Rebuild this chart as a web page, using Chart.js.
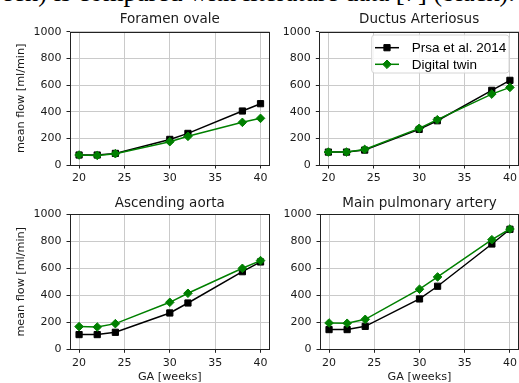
<!DOCTYPE html>
<html><head><meta charset="utf-8">
<script src="https://cdn.jsdelivr.net/npm/chart.js@4.4.0/dist/chart.umd.min.js"></script>
<style>
html,body{margin:0;padding:0;background:#fff;width:519px;height:383px;overflow:hidden;position:relative}
canvas{position:absolute}
#cap{position:absolute;right:4px;top:-21.5px;font-family:'Liberation Serif';font-size:26.5px;line-height:26.5px;white-space:nowrap;color:#000}
</style></head><body>
<div id="cap">een) is compared with literature data [7] (black).</div>
<canvas id="c0" width="275" height="190" style="left:0;top:0"></canvas>
<canvas id="c1" width="275" height="190" style="left:250px;top:0"></canvas>
<canvas id="c2" width="275" height="200" style="left:0;top:190px"></canvas>
<canvas id="c3" width="275" height="200" style="left:250px;top:190px"></canvas>
<script>
const weeks = [20, 22, 24, 30, 32, 38, 40];
const titles = ['Foramen ovale', 'Ductus Arteriosus', 'Ascending aorta', 'Main pulmonary artery'];
const seriesNames = ['Prsa et al. 2014', 'Digital twin'];
const foPrsa = [75, 75, 87, 192, 237, 405, 460];
const foTwin = [75, 72, 85, 175, 215, 320, 350];
const daPrsa = [97, 97, 112, 267, 332, 560, 635];
const daTwin = [97, 97, 117, 275, 340, 532, 582];
const aaPrsa = [109, 109, 126, 269, 343, 575, 647];
const aaTwin = [168, 165, 190, 348, 415, 600, 657];
const mpaPrsa = [146, 146, 170, 373, 467, 780, 889];
const mpaTwin = [195, 193, 222, 445, 536, 812, 891];
const xTicks = [20, 25, 30, 35, 40];
const yTicks = [0, 200, 400, 600, 800, 1000];
const yLabel = 'mean flow [ml/min]';
const xLabel = 'GA [weeks]';

const prsaSeries = [foPrsa, daPrsa, aaPrsa, mpaPrsa];
const twinSeries = [foTwin, daTwin, aaTwin, mpaTwin];

const panels = [
  {id: 'c0', w: 275, h: 190, area: {l: 70, r: 270, t: 31.7, b: 165}, tcy: 19.8, yTitle: true, xTitle: false, legend: false},
  {id: 'c1', w: 275, h: 190, area: {l: 69.3, r: 269, t: 31.7, b: 165}, tcy: 19.8, yTitle: false, xTitle: false, legend: true},
  {id: 'c2', w: 275, h: 200, area: {l: 70, r: 270, t: 24.3, b: 159.3}, tcy: 13.2, yTitle: true, xTitle: true, legend: false},
  {id: 'c3', w: 275, h: 200, area: {l: 70, r: 269, t: 24.3, b: 159.3}, tcy: 13.2, yTitle: false, xTitle: true, legend: false}
];

const TXT = '#1a1a1a';
const GRID = '#cacaca';

const framePlugin = {
  id: 'frame',
  beforeDatasetsDraw(chart) {
    const a = chart.chartArea, ctx = chart.ctx;
    ctx.save();
    ctx.strokeStyle = '#222';
    ctx.lineWidth = 1;
    ctx.strokeRect(Math.round(a.left) + 0.5, Math.round(a.top) + 0.5, Math.round(a.right - a.left) - 1, Math.round(a.bottom - a.top));
    ctx.restore();
  }
};

const legendPlugin = {
  id: 'boxLegend',
  afterDatasetsDraw(chart, args, opts) {
    if (!opts || !opts.show) return;
    const a = chart.chartArea, ctx = chart.ctx;
    const x0 = a.right - 147.3, x1 = a.right - 10, y0 = a.top + 3.3, y1 = a.top + 41.3;
    ctx.save();
    ctx.beginPath();
    if (ctx.roundRect) ctx.roundRect(x0, y0, x1 - x0, y1 - y0, 3); else ctx.rect(x0, y0, x1 - x0, y1 - y0);
    ctx.fillStyle = 'rgba(255,255,255,0.85)';
    ctx.fill();
    ctx.strokeStyle = '#d6d6d6';
    ctx.lineWidth = 1;
    ctx.stroke();
    const rows = [a.top + 16, a.top + 32.6];
    chart.data.datasets.forEach((ds, i) => {
      const y = rows[i];
      ctx.beginPath();
      ctx.strokeStyle = ds.borderColor;
      ctx.lineWidth = ds.borderWidth;
      ctx.moveTo(x0 + 3.3, y);
      ctx.lineTo(x0 + 27.3, y);
      ctx.stroke();
      ctx.fillStyle = ds.pointBackgroundColor;
      ctx.strokeStyle = ds.pointBorderColor;
      ctx.lineWidth = ds.pointBorderWidth;
      Chart.helpers.drawPoint(ctx, {pointStyle: ds.pointStyle, rotation: 0, radius: ds.pointRadius, borderWidth: ds.pointBorderWidth}, x0 + 15.3, y);
      ctx.fillStyle = '#000';
      ctx.font = "13.5px 'Liberation Sans'";
      ctx.textBaseline = 'middle';
      ctx.textAlign = 'left';
      ctx.fillText(ds.label, x0 + 40, y + 0.5);
    });
    ctx.restore();
  }
};

panels.forEach((p, k) => {
  const titleLH = 13.5 * 1.2;
  const padTop = p.tcy - titleLH / 2;
  const padBottom = p.area.t - titleLH - padTop;
  new Chart(document.getElementById(p.id), {
    type: 'line',
    data: {
      datasets: [
        {
          label: seriesNames[0],
          data: weeks.map((w, i) => ({x: w, y: prsaSeries[k][i]})),
          borderColor: '#000000', backgroundColor: '#000000',
          pointBackgroundColor: '#000000', pointBorderColor: '#000000',
          borderWidth: 1.5, pointStyle: 'rect', pointRadius: 4.4, pointBorderWidth: 1,
          order: 1, tension: 0
        },
        {
          label: seriesNames[1],
          data: weeks.map((w, i) => ({x: w, y: twinSeries[k][i]})),
          borderColor: '#008000', backgroundColor: '#008000',
          pointBackgroundColor: '#008000', pointBorderColor: '#008000',
          borderWidth: 1.5, pointStyle: 'rectRot', pointRadius: 4.3, pointBorderWidth: 1,
          order: 0, tension: 0
        }
      ]
    },
    options: {
      responsive: false,
      animation: false,
      devicePixelRatio: 1,
      layout: {padding: {left: 0, top: 0, right: p.w - p.area.r, bottom: 0}},
      plugins: {
        legend: {display: false},
        tooltip: {enabled: false},
        title: {
          display: true, text: titles[k], color: TXT, fullSize: false, align: 'center',
          font: {family: "'DejaVu Sans'", size: 13.5, weight: 'normal', lineHeight: 1.2},
          padding: {top: padTop, bottom: padBottom}
        },
        boxLegend: {show: p.legend}
      },
      scales: {
        x: {
          type: 'linear', min: 19, max: 41,
          afterBuildTicks: (ax) => { ax.ticks = xTicks.map(v => ({value: v})); },
          afterFit: (sc) => { sc.height = p.h - p.area.b; },
          grid: {color: GRID, lineWidth: 1, drawTicks: true, tickLength: 3.5, tickColor: '#222', tickWidth: 1},
          border: {display: false},
          ticks: {color: TXT, font: {family: "'DejaVu Sans'", size: 11}, padding: 3.5, maxRotation: 0, autoSkip: false, callback: (v) => String(v)},
          title: {display: p.xTitle, text: xLabel, color: TXT, font: {family: "'DejaVu Sans'", size: 11.2, lineHeight: 1.2}, padding: {top: 0, bottom: 5.7}}
        },
        y: {
          type: 'linear', min: 0, max: 1000,
          afterBuildTicks: (ax) => { ax.ticks = yTicks.map(v => ({value: v})); },
          afterFit: (sc) => { sc.width = p.area.l; },
          grid: {color: GRID, lineWidth: 1, drawTicks: true, tickLength: 3.5, tickColor: '#222', tickWidth: 1},
          border: {display: false},
          ticks: {color: TXT, font: {family: "'DejaVu Sans'", size: 11}, padding: 5, callback: (v) => String(v)},
          title: {display: p.yTitle, text: yLabel, color: TXT, font: {family: "'DejaVu Sans'", size: 11.2, lineHeight: 1.2}, padding: {top: 14.4, bottom: 0}}
        }
      }
    },
    plugins: [framePlugin, legendPlugin]
  });
});
</script>
</body></html>
